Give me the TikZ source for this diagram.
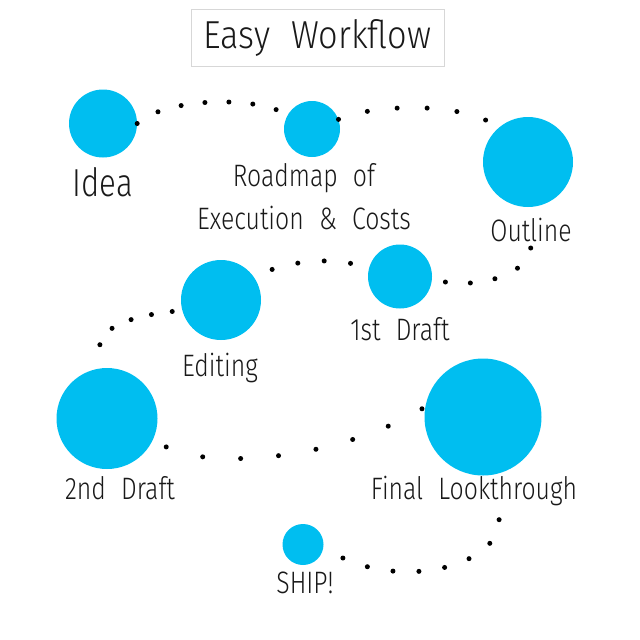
\documentclass[tikz,border=0pt]{standalone}
\usepackage{fontspec}
\usetikzlibrary{positioning}
\newfontfamily\flowfont[FakeStretch=0.8,WordSpace=2.2]{Fira Sans Light}
\newfontfamily\headfont[FakeStretch=0.88,WordSpace=2.2]{Fira Sans Light}
\definecolor{flowblue}{RGB}{0,190,240}
\definecolor{inkgray}{RGB}{25,25,25}
\definecolor{boxgray}{RGB}{215,215,215}

\begin{document}
\begin{tikzpicture}[x=1pt,y=-1pt,
		stage/.style={circle,fill=flowblue,inner sep=0pt},
		caption/.style={inner sep=0pt,text=inkgray,align=center,
			font=\flowfont\fontsize{31}{42.7}\selectfont},
		bigcaption/.style={caption,font=\flowfont\fontsize{39}{39}\selectfont},
		trail/.style={draw=black,line width=5pt,line cap=round,dash pattern=on 0pt off #1},
		trail/.default=25pt]
		\useasboundingbox (0,0) rectangle (640,640);
		\node[caption,font=\headfont\fontsize{39}{39}\selectfont,draw=boxgray,line width=0.8pt,minimum width=253pt,minimum height=57pt] (title) at (317.5,37.5) {Easy Workflow};
		% stages
		\node[stage,minimum size=68pt] (idea) at (103,123.5) {};
		\node[stage,minimum size=56pt] (road) at (312,129) {};
		\node[stage,minimum size=90pt] (outline) at (528,162) {};
		\node[stage,minimum size=64pt] (draft1) at (400,276.5) {};
		\node[stage,minimum size=80pt] (editing) at (221,300) {};
		\node[stage,minimum size=101pt] (draft2) at (107,418.5) {};
		\node[stage,minimum size=117pt] (final) at (483,417) {};
		\node[stage,minimum size=41pt] (ship) at (303,544.5) {};
		% captions
		\node[bigcaption] (idea-txt) [below=10pt of idea] {Idea};
		\node[caption] (road-txt) [below=6pt of road,xshift=-8pt] {Roadmap of\\Execution \& Costs};
		\node[caption] (outline-txt) [below=11pt of outline,xshift=3pt] {Outline};
		\node[caption] (draft1-txt) [below=9pt of draft1] {1st Draft};
		\node[caption] (editing-txt) [below=13pt of editing,xshift=-1pt] {Editing};
		\node[caption] (draft2-txt) [below=7pt of draft2,xshift=13pt] {2nd Draft};
		\node[caption] (final-txt) [below=0pt of final,xshift=-9pt] {Final Lookthrough};
		\node[caption] (ship-txt) [below=7pt of ship,xshift=2pt] {SHIP!};
		% dotted trails
		\path[trail=24pt] (idea.east) .. controls (165,98) and (255,95) .. (road.150);
		\path[trail=30pt] (road.20) .. controls (370,105) and (460,100) .. (outline.130);
		\path[trail=25pt,shorten <=41pt] (outline.-85) .. controls (530,272) and (480,292) .. (draft1.-5);
		\path[trail=26.5pt,shorten <=19pt,shorten >=19pt] (draft1.165) .. controls (330,258) and (290,262) .. (editing.35);
		\path[trail=21pt,shorten <=10pt,shorten >=16pt] (editing.195) .. controls (140,315) and (95,325) .. (draft2.95);
		\path[trail=38pt,shorten <=15pt] (draft2.-25) .. controls (210,470) and (340,460) .. (final.170);
		\path[trail=26pt,shorten <=46pt,shorten >=17pt] (final.-75) .. controls (500,565) and (405,590) .. (ship.-10);
	\end{tikzpicture}
\end{document}
